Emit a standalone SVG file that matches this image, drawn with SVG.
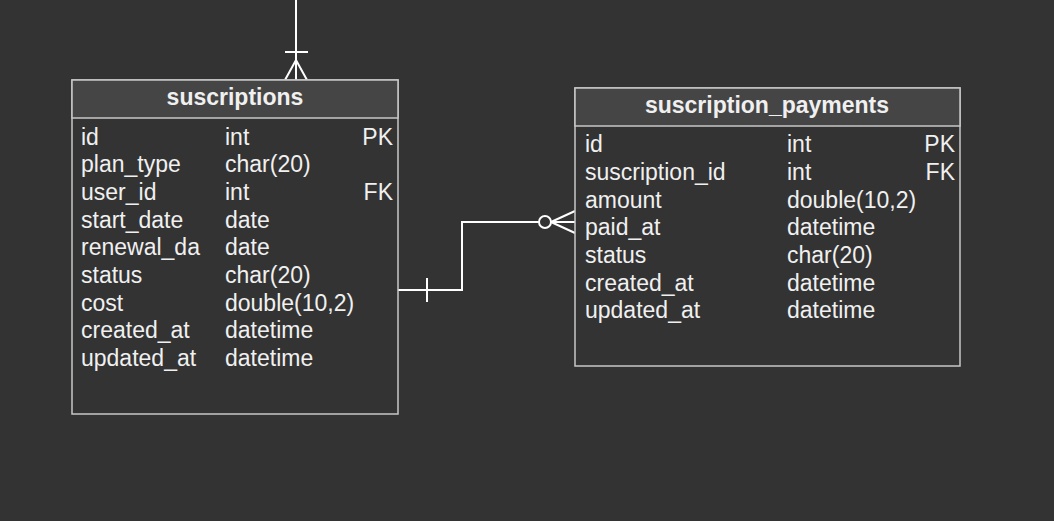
<svg xmlns="http://www.w3.org/2000/svg" width="1054" height="521" viewBox="0 0 1054 521">
<style>
.box{fill:#333333;stroke:#c8c8c8;stroke-width:1.5}
.hdr{fill:#454545;stroke:#c8c8c8;stroke-width:1.5}
.t{font-family:"Liberation Sans",Arial,sans-serif;font-size:23px;fill:#f0f0f0}
.h{font-family:"Liberation Sans",Arial,sans-serif;font-size:23px;font-weight:bold;fill:#f0f0f0;text-anchor:middle}
.r{text-anchor:end}
.c{fill:none;stroke:#ffffff;stroke-width:2}
</style>
<rect width="1054" height="521" fill="#333333"/>
<g id="connectors">
<path class="c" d="M296 0V80"/>
<path class="c" d="M285 52H308"/>
<path class="c" d="M285 80L296 60L307 80M296 60V80"/>
<path class="c" d="M398 290H462V222H539"/>
<circle class="c" cx="545" cy="222" r="6"/>
<path class="c" d="M551 222L575 211M551 222H575M551 222L575 233"/>
<path class="c" d="M427 278V302"/>
</g>
<g id="suscriptions">
<rect class="box" x="72" y="80" width="326" height="334"/>
<rect class="hdr" x="72" y="80" width="326" height="38"/>
<text class="h" x="235" y="105">suscriptions</text>
<text class="t" x="81" y="145">id</text><text class="t" x="225" y="145">int</text><text class="t r" x="393" y="145">PK</text>
<text class="t" x="81" y="172">plan_type</text><text class="t" x="225" y="172">char(20)</text>
<text class="t" x="81" y="200">user_id</text><text class="t" x="225" y="200">int</text><text class="t r" x="393" y="200">FK</text>
<text class="t" x="81" y="228">start_date</text><text class="t" x="225" y="228">date</text>
<text class="t" x="81" y="255">renewal_da</text><text class="t" x="225" y="255">date</text>
<text class="t" x="81" y="283">status</text><text class="t" x="225" y="283">char(20)</text>
<text class="t" x="81" y="311">cost</text><text class="t" x="225" y="311">double(10,2)</text>
<text class="t" x="81" y="338">created_at</text><text class="t" x="225" y="338">datetime</text>
<text class="t" x="81" y="366">updated_at</text><text class="t" x="225" y="366">datetime</text>
</g>
<g id="suscription_payments">
<rect class="box" x="575" y="88" width="385" height="278"/>
<rect class="hdr" x="575" y="88" width="385" height="38"/>
<text class="h" x="767" y="113">suscription_payments</text>
<text class="t" x="585" y="152">id</text><text class="t" x="787" y="152">int</text><text class="t r" x="955" y="152">PK</text>
<text class="t" x="585" y="180">suscription_id</text><text class="t" x="787" y="180">int</text><text class="t r" x="955" y="180">FK</text>
<text class="t" x="585" y="208">amount</text><text class="t" x="787" y="208">double(10,2)</text>
<text class="t" x="585" y="235">paid_at</text><text class="t" x="787" y="235">datetime</text>
<text class="t" x="585" y="263">status</text><text class="t" x="787" y="263">char(20)</text>
<text class="t" x="585" y="291">created_at</text><text class="t" x="787" y="291">datetime</text>
<text class="t" x="585" y="318">updated_at</text><text class="t" x="787" y="318">datetime</text>
</g>
</svg>
